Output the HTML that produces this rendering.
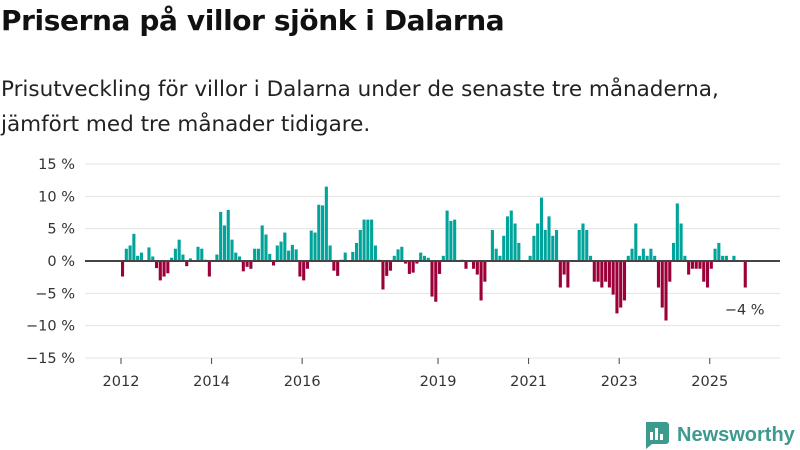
<!DOCTYPE html>
<html><head><meta charset="utf-8"><style>
body{margin:0;background:#fff;width:800px;height:450px;overflow:hidden;font-family:"DejaVu Sans","Liberation Sans",sans-serif;color:#111}
#title{position:absolute;left:1px;top:4px;font-size:28px;font-weight:bold;letter-spacing:-0.4px}
#sub{position:absolute;left:1px;top:72px;font-size:21.5px;line-height:35px;color:#222}
svg{position:absolute;left:0;top:0}
</style></head><body>
<div id="title">Priserna på villor sjönk i Dalarna</div>
<div id="sub">Prisutveckling för villor i Dalarna under de senaste tre månaderna,<br>jämfört med tre månader tidigare.</div>
<svg id="chart" width="800" height="450"></svg>
<script>
const yTicks=[15,10,5,0,-5,-10,-15];
const yTickLabels=["15 %","10 %","5 %","0 %","−5 %","−10 %","−15 %"];
const xYears=[2012,2014,2016,2019,2021,2023,2025];
const startYear=2012;
const values=[-2.4,1.9,2.4,4.2,0.8,1.3,null,2.1,0.7,-1.1,-3.0,-2.4,-1.9,0.5,1.9,3.3,1.0,-0.8,0.4,null,2.2,1.9,0.2,-2.4,null,1.0,7.6,5.5,7.9,3.3,1.3,0.7,-1.6,-0.9,-1.2,1.9,1.9,5.5,4.1,1.1,-0.7,2.4,3.0,4.4,1.6,2.5,1.8,-2.4,-3.0,-1.2,4.7,4.4,8.7,8.6,11.5,2.4,-1.5,-2.3,0.2,1.3,null,1.4,2.8,4.8,6.4,6.4,6.4,2.4,0.2,-4.4,-2.3,-1.5,0.8,1.8,2.2,-0.4,-2.0,-1.8,-0.4,1.3,0.8,0.5,-5.5,-6.3,-2.0,0.8,7.8,6.2,6.4,null,0.2,-1.2,null,-1.2,-2.1,-6.1,-3.2,null,4.8,1.9,0.8,3.9,6.9,7.8,5.8,2.8,null,null,0.8,3.9,5.8,9.8,4.8,6.9,3.9,4.8,-4.1,-2.1,-4.1,null,null,4.8,5.8,4.8,0.8,-3.2,-3.2,-4.1,-3.2,-4.1,-5.2,-8.1,-7.2,-6.1,0.8,1.9,5.8,0.8,1.9,0.8,1.9,0.8,-4.1,-7.2,-9.2,-3.2,2.8,8.9,5.8,0.8,-2.1,-1.2,-1.2,-1.2,-3.2,-4.1,-1.2,1.9,2.8,0.8,0.8,null,0.8,null,null,-4.1];
const lastLabel="−4 %";
const svg=document.getElementById('chart');
const NS='http://www.w3.org/2000/svg';
const y=v=>261-v*6.467;
const x=i=>121+i*3.774;
function mk(t,a,txt){const e=document.createElementNS(NS,t);for(const k in a)e.setAttribute(k,a[k]);if(txt!==undefined)e.textContent=txt;svg.appendChild(e);return e;}
yTicks.forEach((t,k)=>{
 if(t!==0){const g=mk('line',{x1:85,x2:780,y1:y(t),y2:y(t),stroke:'#e3e3e3','stroke-width':1});
 
 }
 const l=mk('text',{x:75,y:y(t)+5,'text-anchor':'end','font-size':14.5,fill:'#333'},yTickLabels[k]);
 
 
});
values.forEach((v,i)=>{
 if(v===null)return;
 const r=mk('rect',{x:x(i),width:3.1,y:Math.min(y(v),y(0)),height:Math.abs(y(v)-y(0)),fill:v>=0?'#00a49a':'#9b0039'});
 
 
});
const z=mk('line',{x1:85,x2:780,y1:y(0),y2:y(0),stroke:'#444','stroke-width':2});


xYears.forEach(yr=>{
 const i=(yr-startYear)*12;
 const tk=mk('line',{x1:x(i),x2:x(i),y1:358,y2:364,stroke:'#444','stroke-width':1});
 
 
 const t=mk('text',{x:x(i),y:386,'text-anchor':'middle','font-size':14.5,fill:'#333'},String(yr));
 
 
});
const li=values.length-1;
const ll=mk('text',{x:x(li)+1,y:y(values[li])+27,'text-anchor':'middle','font-size':14.5,fill:'#333'},lastLabel);


const lg=document.createElementNS(NS,'g');


svg.appendChild(lg);
lg.innerHTML='<path d="M646 422 h20 a3 3 0 0 1 3 3 v16 a3 3 0 0 1 -3 3 h-14 l-6 5 z" fill="#3d9a8e"/><rect x="650" y="432" width="3" height="8" fill="#fff"/><rect x="655" y="428" width="3" height="12" fill="#fff"/><rect x="660" y="434" width="3" height="6" fill="#fff"/><text x="677" y="441" font-size="20" font-weight="bold" fill="#3d9a8e" font-family="Liberation Sans, sans-serif">Newsworthy</text>';
</script>
</body></html>
